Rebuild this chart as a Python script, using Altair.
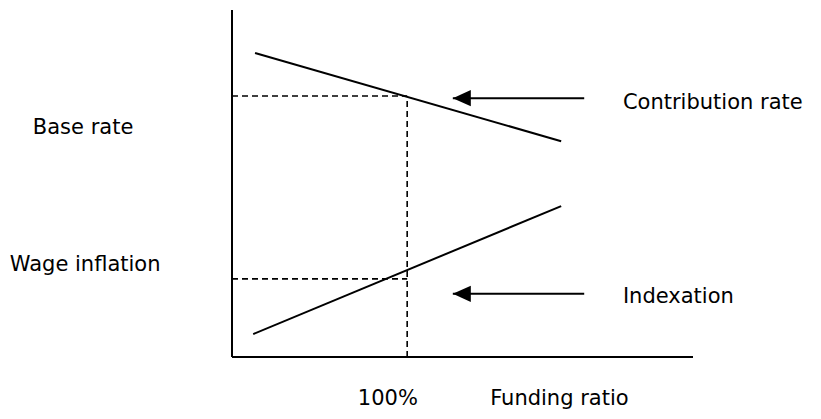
import altair as alt
import pandas as pd

# Conceptual coordinates: funding ratio axis 0..10, rate axis 0..10
series_names = ["Contribution rate", "Contribution rate", "Indexation", "Indexation"]
series_x = [0.50, 7.14, 0.46, 7.14]
series_y = [8.76, 6.22, 0.66, 4.35]

funding_100 = 3.80          # position of 100% funding ratio
base_rate_level = 7.52      # contribution rate at 100%
wage_infl_level = 2.25      # indexation level at 100%

arrow_start_x = [7.64, 7.64]
arrow_tip_x = [4.79, 4.79]
arrow_y = [7.46, 1.82]

label_texts = ["Contribution rate", "Indexation", "Funding ratio", "Base rate", "Wage inflation"]
label_x = [8.48, 8.48, 5.60, -4.32, -4.82]
label_y = [7.32, 1.73, -1.22, 6.60, 2.65]
tick_text = ["100%"]
tick_x = [3.38]
tick_y = [-1.22]

FONT = "DejaVu Sans"
FS = 21

xs = alt.Scale(domain=[0, 10])
ys = alt.Scale(domain=[0, 10])

lines_df = pd.DataFrame({"s": series_names, "x": series_x, "y": series_y})
lines = alt.Chart(lines_df).mark_line(color="black", strokeWidth=2, clip=False).encode(
    x=alt.X("x:Q", scale=xs, axis=None),
    y=alt.Y("y:Q", scale=ys, axis=None),
    detail="s:N",
)

axes_df = pd.DataFrame({"x": [0, 0], "x2": [0, 10], "y": [0, 0], "y2": [10, 0]})
axes = alt.Chart(axes_df).mark_rule(color="black", strokeWidth=2, clip=False).encode(
    x=alt.X("x:Q", scale=xs, axis=None), x2="x2:Q",
    y=alt.Y("y:Q", scale=ys, axis=None), y2="y2:Q",
)

dash_df = pd.DataFrame({
    "x": [0, 0, funding_100],
    "x2": [funding_100, funding_100, funding_100],
    "y": [base_rate_level, wage_infl_level, 0],
    "y2": [base_rate_level, wage_infl_level, base_rate_level],
})
dashes = alt.Chart(dash_df).mark_rule(color="black", strokeWidth=1.6, strokeDash=[6, 4], clip=False).encode(
    x=alt.X("x:Q", scale=xs, axis=None), x2="x2:Q",
    y=alt.Y("y:Q", scale=ys, axis=None), y2="y2:Q",
)

arrow_df = pd.DataFrame({"x": arrow_start_x, "x2": arrow_tip_x, "y": arrow_y})
shafts = alt.Chart(arrow_df).mark_rule(color="black", strokeWidth=2, clip=False).encode(
    x=alt.X("x:Q", scale=xs, axis=None), x2="x2:Q",
    y=alt.Y("y:Q", scale=ys, axis=None),
)
heads = alt.Chart(arrow_df).mark_point(
    shape="M 0 0 L 1 -0.45 L 1 0.45 Z", size=1296, filled=True, color="black", opacity=1, clip=False
).encode(
    x=alt.X("x2:Q", scale=xs, axis=None),
    y=alt.Y("y:Q", scale=ys, axis=None),
)

labels_df = pd.DataFrame({"t": label_texts, "x": label_x, "y": label_y})
labels = alt.Chart(labels_df).mark_text(
    align="left", baseline="middle", font=FONT, fontSize=FS, color="black", clip=False
).encode(
    x=alt.X("x:Q", scale=xs, axis=None),
    y=alt.Y("y:Q", scale=ys, axis=None),
    text="t:N",
)

ticks_df = pd.DataFrame({"t": tick_text, "x": tick_x, "y": tick_y})
ticks = alt.Chart(ticks_df).mark_text(
    align="center", baseline="middle", font=FONT, fontSize=FS, color="black", clip=False
).encode(
    x=alt.X("x:Q", scale=xs, axis=None),
    y=alt.Y("y:Q", scale=ys, axis=None),
    text="t:N",
)

chart = alt.layer(axes, dashes, lines, shafts, heads, labels, ticks).properties(
    width=461, height=347,
    autosize=alt.AutoSizeParams(type="none"),
    padding={"left": 224, "top": 2, "right": 120, "bottom": 58},
    background="white",
).configure_view(stroke=None)

chart.save("out.html", embed_options={"renderer": "svg", "actions": False})
